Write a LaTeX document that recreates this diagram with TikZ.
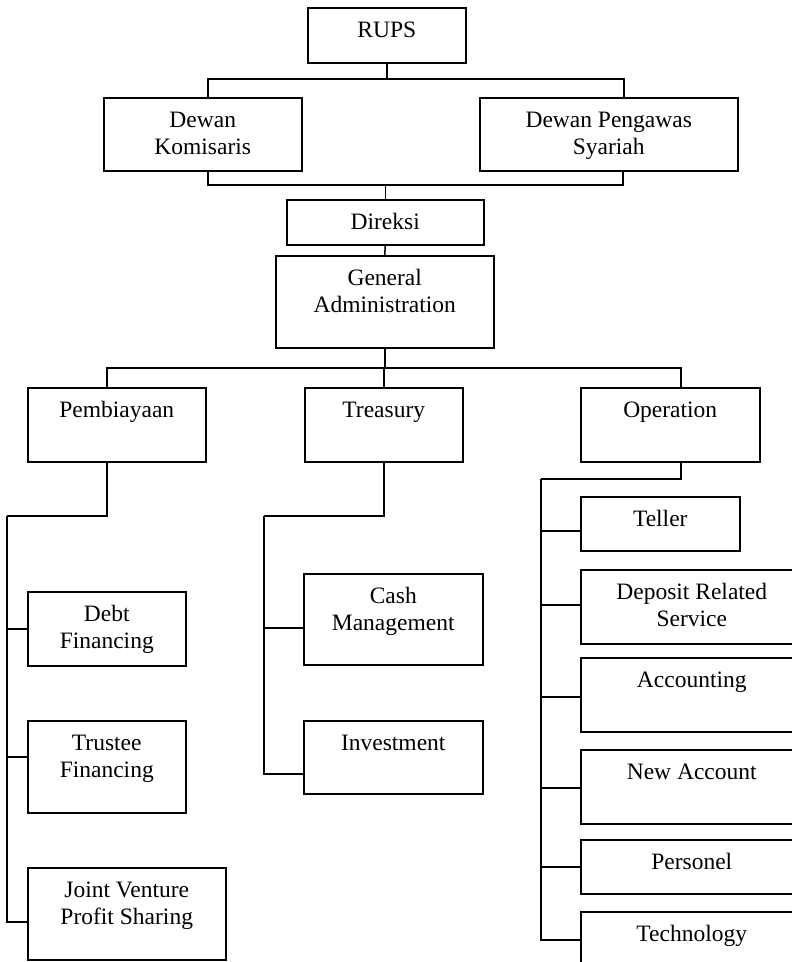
\documentclass[tikz,border=0pt]{standalone}
\usepackage{fontspec}
\setmainfont{Liberation Serif}
\usepackage{tikz}

\begin{document}
\begin{tikzpicture}[x=1pt, y=-1pt,
		line width=1.5pt,
		unitbox/.style 2 args={draw=black, anchor=north west, inner sep=0pt,
			align=center, minimum width=#1, text height=30pt, text depth=#2,
			font=\fontsize{23.5pt}{27pt}\selectfont},
		twoline/.style={text height=57pt}]
		\useasboundingbox (0,0) rectangle (792,962);
		\clip (0,0) rectangle (792,962);

		% top levels
		\node[unitbox={158pt}{25pt}] (rups) at (307,7) {RUPS};
		\node[unitbox={198pt}{16pt}, twoline] (komisaris) at (103,97) {Dewan\\Komisaris};
		\node[unitbox={258pt}{16pt}, twoline] (syariah) at (479,97) {Dewan Pengawas\\Syariah};
		\node[unitbox={197pt}{15pt}] (direksi) at (286,199) {Direksi};
		\node[unitbox={218pt}{35pt}, twoline] (genadm) at (275,255) {General\\Administration};

		% divisions
		\node[unitbox={178pt}{44pt}] (pembiayaan) at (27,387) {Pembiayaan};
		\node[unitbox={158pt}{44pt}] (treasury) at (304,387) {Treasury};
		\node[unitbox={179pt}{44pt}] (operation) at (580,387) {Operation};

		% pembiayaan units
		\node[unitbox={158pt}{17pt}, twoline] (debt) at (27,591) {Debt\\Financing};
		\node[unitbox={158pt}{35pt}, twoline] (trustee) at (27,720) {Trustee\\Financing};
		\node[unitbox={198pt}{35pt}, twoline] (jointventure) at (27,867) {Joint Venture\\Profit Sharing};

		% treasury units
		\node[unitbox={179pt}{34pt}, twoline] (cashmgmt) at (303,573) {Cash\\Management};
		\node[unitbox={179pt}{43pt}] (investment) at (303,720) {Investment};

		% operation units
		\node[unitbox={159pt}{24pt}] (teller) at (580,496) {Teller};
		\node[unitbox={222pt}{17pt}, twoline] (deposit) at (580,569) {Deposit Related\\Service};
		\node[unitbox={222pt}{44pt}] (accounting) at (580,657) {Accounting};
		\node[unitbox={222pt}{44pt}] (newaccount) at (580,749) {New Account};
		\node[unitbox={222pt}{24pt}] (personel) at (580,839) {Personel};
		\node[unitbox={222pt}{44pt}] (technology) at (580,911) {Technology};

		% bus points
		\coordinate (topbus) at (386,79);
		\coordinate (boardbus) at (385,185);
		\coordinate (divbus) at (383,368);
		\coordinate (pbus) at (7,516);
		\coordinate (tbus) at (264,516);
		\coordinate (obus) at (541,479);

		\draw (rups.south) |- (topbus);
		\draw ([xshift=5pt]komisaris.north) |- (topbus) -| ([xshift=15pt]syariah.north);
		\draw ([xshift=5pt]komisaris.south) |- (boardbus) -| ([xshift=14pt]syariah.south);
		\draw (boardbus) -| (direksi.north);
		\draw (direksi.south) -- (genadm.north);
		\draw (genadm.south) |- (divbus);
		\draw ([xshift=-10pt]pembiayaan.north) |- (divbus) -| ([xshift=10.5pt]operation.north);
		\draw (divbus) -| (treasury.north);

		\draw ([xshift=-10pt]pembiayaan.south) |- (pbus);
		\foreach \n/\s in {debt/0, trustee/10, jointventure/-8}
			\draw (pbus) |- ([yshift=\s pt]\n.west);

		\draw (treasury.south) |- (tbus);
		\foreach \n/\s in {cashmgmt/-8.5, investment/-16.5}
			\draw (tbus) |- ([yshift=\s pt]\n.west);

		\draw ([xshift=10.5pt]operation.south) |- (obus);
		\foreach \n/\s in {teller/-7, deposit/2, accounting/-2, newaccount/-1, personel/0, technology/9}
			\draw (obus) |- ([yshift=\s pt]\n.west);
	\end{tikzpicture}
\end{document}
